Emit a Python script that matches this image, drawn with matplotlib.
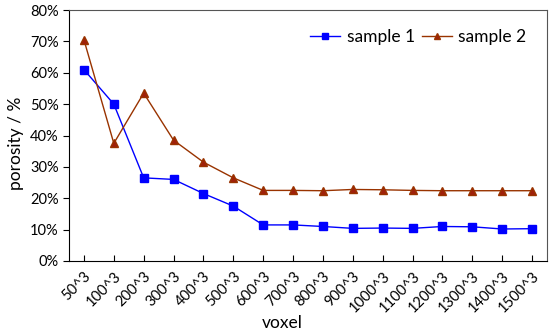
import matplotlib.pyplot as plt
from matplotlib.ticker import PercentFormatter

# 数据
voxels = ["50^3", "100^3", "200^3", "300^3", "400^3", "500^3", "600^3", "700^3",
          "800^3", "900^3", "1000^3", "1100^3", "1200^3", "1300^3", "1400^3", "1500^3"]
sample1 = [61.0, 50.0, 26.5, 26.0, 21.5, 17.5, 11.5, 11.5,
           11.0, 10.4, 10.5, 10.4, 11.0, 10.9, 10.2, 10.3]
sample2 = [70.5, 37.5, 53.5, 38.5, 31.5, 26.5, 22.5, 22.5,
           22.4, 22.8, 22.7, 22.5, 22.4, 22.4, 22.4, 22.4]

plt.rcParams["font.family"] = ["Lato", "DejaVu Sans"]

fig = plt.figure(figsize=(5.5, 3.31), dpi=100)
ax = fig.add_axes([69 / 550, 1 - 261 / 331, 478 / 550, 251 / 331])

x = list(range(len(voxels)))
ax.plot(x, sample1, color="#0000FF", lw=1.0, marker="s", ms=6,
        label="sample 1")
ax.plot(x, sample2, color="#993300", lw=1.0, marker="^", ms=6,
        markerfacecolor="#A0200A", markeredgecolor="#993300", label="sample 2")

ax.set_xlim(-0.5, len(voxels) - 0.5)
ax.set_ylim(0, 80)
ax.set_yticks(range(0, 81, 10))
ax.yaxis.set_major_formatter(PercentFormatter(decimals=0))
ax.set_xticks(x)
ax.set_xticklabels(voxels, rotation=45, ha="right", rotation_mode="anchor")

ax.tick_params(axis="x", direction="in", length=4, labelsize=10.5, pad=6)
ax.tick_params(axis="y", direction="out", length=4, labelsize=10.5)
for side in ["top", "right"]:
    ax.spines[side].set_color("#555555")

ax.set_xlabel("voxel", fontsize=12.5)
ax.xaxis.set_label_coords(0.446, -0.215)
ax.set_ylabel("porosity / %", fontsize=12.5)
ax.yaxis.set_label_coords(-0.095, 0.47)

ax.legend(loc="upper right", ncol=2, frameon=False, fontsize=12.5,
          handlelength=1.7, handletextpad=0.4, columnspacing=0.4,
          markerscale=0.7, bbox_to_anchor=(0.99, 0.985))

fig.savefig("out.png", dpi=100)
